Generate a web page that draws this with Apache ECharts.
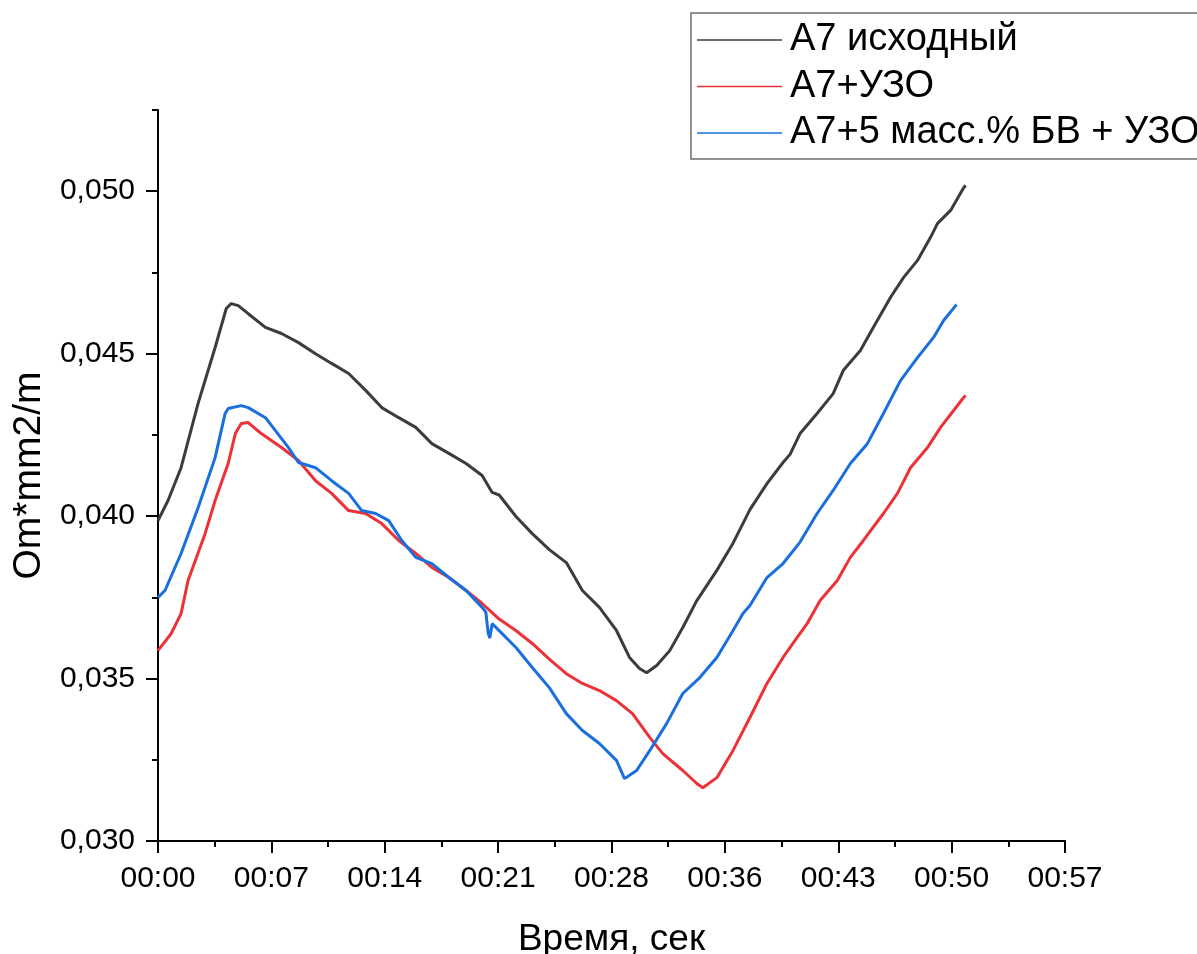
<!DOCTYPE html>
<html>
<head>
<meta charset="utf-8">
<script src="https://cdn.jsdelivr.net/npm/echarts@6/dist/echarts.min.js"></script>
<style>
html,body{margin:0;padding:0;background:#fff;}
#chart{width:1197px;height:954px;}
</style>
</head>
<body>
<div id="chart"></div>
<script>
// ---- data (time in seconds, value in Om*mm2/m) ----
const seriesNames = ['A7 исходный', 'A7+УЗО', 'A7+5 масс.% БВ + УЗО'];

const a7Base = [
  [0.00,0.03986],[0.63,0.04048],[1.45,0.04149],[2.52,0.04347],[3.59,0.04519],[4.29,0.04639],
  [4.60,0.04654],[5.04,0.04648],[5.67,0.04623],[6.75,0.04581],[7.76,0.04562],[8.83,0.04534],
  [9.90,0.04500],[10.91,0.04470],[11.98,0.04439],[13.05,0.04387],[14.06,0.04334],[15.13,0.04303],
  [16.20,0.04273],[17.21,0.04223],[18.28,0.04193],[19.36,0.04162],[20.37,0.04125],[21.00,0.04073],
  [21.44,0.04065],[22.51,0.03998],[23.52,0.03946],[24.59,0.03897],[25.66,0.03857],[26.67,0.03771],
  [27.74,0.03719],[28.81,0.03648],[29.63,0.03565],[30.26,0.03531],[30.71,0.03518],[31.34,0.03540],
  [32.16,0.03586],[32.98,0.03657],[33.86,0.03740],[35.12,0.03833],[36.13,0.03916],[37.20,0.04020],
  [38.27,0.04100],[39.28,0.04165],[39.72,0.04190],[40.35,0.04254],[41.42,0.04316],[42.43,0.04377],
  [43.06,0.04448],[44.14,0.04510],[44.96,0.04581],[46.03,0.04673],[46.85,0.04734],[47.73,0.04787],
  [48.55,0.04858],[48.99,0.04901],[49.81,0.04941],[50.63,0.05011],[50.76,0.05018]
];

const a7Uzo = [
  [0.00,0.03586],[0.82,0.03638],[1.45,0.03700],[1.89,0.03802],[2.96,0.03946],[3.59,0.04048],
  [4.41,0.04162],[4.86,0.04254],[5.23,0.04285],[5.67,0.04288],[6.49,0.04254],[7.76,0.04211],
  [8.83,0.04171],[9.90,0.04109],[10.91,0.04070],[11.98,0.04017],[13.05,0.04008],[14.06,0.03977],
  [15.13,0.03925],[16.20,0.03885],[17.21,0.03842],[18.28,0.03811],[19.36,0.03771],[20.37,0.03731],
  [21.44,0.03683],[22.51,0.03647],[23.52,0.03608],[24.59,0.03560],[25.66,0.03515],[26.67,0.03485],
  [27.74,0.03463],[28.81,0.03432],[29.82,0.03392],[30.90,0.03319],[31.72,0.03269],[32.98,0.03217],
  [33.86,0.03177],[34.24,0.03164],[35.12,0.03195],[36.13,0.03278],[37.20,0.03380],[38.27,0.03485],
  [39.28,0.03565],[40.16,0.03626],[40.79,0.03669],[41.61,0.03740],[42.69,0.03802],[43.51,0.03873],
  [44.33,0.03925],[45.59,0.04008],[46.47,0.04070],[47.29,0.04149],[48.36,0.04211],[49.18,0.04273],
  [50.00,0.04325],[50.63,0.04365],[50.76,0.04371]
];

const a7BvUzo = [
  [0.00,0.03750],[0.44,0.03771],[1.45,0.03885],[2.52,0.04026],[3.59,0.04180],[4.22,0.04316],
  [4.41,0.04331],[5.23,0.04340],[5.67,0.04334],[6.75,0.04303],[7.38,0.04263],[8.20,0.04211],
  [8.83,0.04165],[9.90,0.04149],[10.91,0.04109],[11.98,0.04070],[12.80,0.04017],[13.68,0.04008],
  [14.50,0.03986],[15.32,0.03925],[16.20,0.03873],[17.21,0.03854],[18.28,0.03811],[19.36,0.03771],
  [20.37,0.03719],[20.60,0.03705],[20.75,0.03640],[20.85,0.03625],[21.00,0.03669],[22.51,0.03595],
  [23.52,0.03534],[24.59,0.03472],[25.66,0.03392],[26.67,0.03340],[27.74,0.03300],[28.81,0.03248],
  [29.32,0.03192],[30.08,0.03217],[30.90,0.03278],[31.97,0.03362],[32.98,0.03454],[34.05,0.03503],
  [35.12,0.03565],[36.13,0.03647],[36.76,0.03700],[37.20,0.03725],[38.27,0.03811],[39.28,0.03854],
  [40.35,0.03920],[41.42,0.04008],[42.43,0.04079],[43.51,0.04162],[44.58,0.04223],[45.59,0.04316],
  [46.66,0.04417],[47.73,0.04488],[48.74,0.04550],[49.37,0.04602],[50.13,0.04648],[50.19,0.04651]
];

const xTickValues = [0, 7.125, 14.25, 21.375, 28.5, 35.625, 42.75, 49.875, 57];
const xTickLabels = ['00:00','00:07','00:14','00:21','00:28','00:36','00:43','00:50','00:57'];
const yTickValues = [0.030, 0.035, 0.040, 0.045, 0.050];
const yTickLabels = ['0,030','0,035','0,040','0,045','0,050'];

const xMin = 0, xMax = 57, xMinorStep = 3.5625;
const yMin = 0.030, yMax = 0.0525, yMinorStep = 0.0025;

const colors = ['#3c3c3c', '#ec3237', '#1a6fdf'];
const FONT = "'Liberation Sans', Arial, sans-serif";

const chart = echarts.init(document.getElementById('chart'), null, {renderer: 'canvas'});

const axisLineStyle = {color: '#000', width: 2};

const option = {
  backgroundColor: '#fff',
  animation: false,
  grid: {left: 158, right: 132, top: 110, bottom: 113, containLabel: false, outerBoundsMode: 'none'},
  legend: {
    orient: 'vertical',
    left: 691,
    top: 13,
    padding: [8, 6, 7, 6],
    itemGap: 8.5,
    itemWidth: 85,
    itemHeight: 1.5,
    icon: 'rect',
    borderColor: '#6e6e6e',
    borderWidth: 1.5,
    backgroundColor: '#fff',
    textStyle: {fontFamily: FONT, fontSize: 38, color: '#000', lineHeight: 38, padding: [0,0,0,3]},
    data: seriesNames
  },
  xAxis: [
    {
      type: 'value', min: xMin, max: xMax, interval: xMinorStep,
      position: 'bottom',
      axisLine: {show: true, lineStyle: axisLineStyle, onZero: false},
      axisTick: {show: true, length: 6, lineStyle: {color: '#000', width: 2}},
      axisLabel: {show: false},
      splitLine: {show: false}
    },
    {
      type: 'value', min: xMin, max: xMax,
      position: 'bottom',
      name: 'Время, сек',
      nameLocation: 'middle',
      nameGap: 80,
      nameTextStyle: {fontFamily: FONT, fontSize: 37, color: '#000'},
      axisLine: {show: false, onZero: false},
      axisTick: {show: true, length: 12, customValues: xTickValues, lineStyle: {color: '#000', width: 2}},
      axisLabel: {
        show: true, margin: 23, customValues: xTickValues,
        fontFamily: FONT, fontSize: 30, color: '#000',
        formatter: function (v) {
          const i = xTickValues.findIndex(t => Math.abs(t - v) < 1e-6);
          return i >= 0 ? xTickLabels[i] : '';
        }
      },
      splitLine: {show: false}
    }
  ],
  yAxis: [
    {
      type: 'value', min: yMin, max: yMax, interval: yMinorStep,
      position: 'left',
      axisLine: {show: true, lineStyle: axisLineStyle, onZero: false},
      axisTick: {show: true, length: 6, lineStyle: {color: '#000', width: 2}},
      axisLabel: {show: false},
      splitLine: {show: false}
    },
    {
      type: 'value', min: yMin, max: yMax,
      position: 'left',
      name: 'Om*mm2/m',
      nameLocation: 'middle',
      nameGap: 109,
      nameTextStyle: {fontFamily: FONT, fontSize: 39, color: '#000'},
      axisLine: {show: false, onZero: false},
      axisTick: {show: true, length: 12, customValues: yTickValues, lineStyle: {color: '#000', width: 2}},
      axisLabel: {
        show: true, margin: 23, customValues: yTickValues,
        fontFamily: FONT, fontSize: 30, color: '#000',
        formatter: function (v) {
          const i = yTickValues.findIndex(t => Math.abs(t - v) < 1e-9);
          return i >= 0 ? yTickLabels[i] : '';
        }
      },
      splitLine: {show: false}
    }
  ],
  series: [a7Base, a7Uzo, a7BvUzo].map((d, i) => ({
    name: seriesNames[i],
    type: 'line',
    xAxisIndex: 0,
    yAxisIndex: 0,
    data: d,
    showSymbol: false,
    symbol: 'none',
    smooth: false,
    lineStyle: {color: colors[i], width: 3},
    itemStyle: {color: colors[i]},
    emphasis: {disabled: true}
  }))
};

chart.setOption(option);
</script>
</body>
</html>
